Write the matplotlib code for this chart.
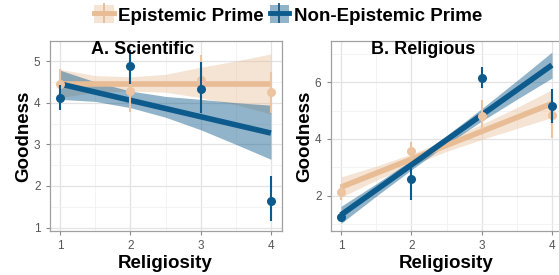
import matplotlib
matplotlib.use('Agg')
import matplotlib.pyplot as plt
import numpy as np
from matplotlib.patches import Patch
from matplotlib.lines import Line2D

plt.rcParams['font.family'] = ['Liberation Sans', 'DejaVu Sans']

# religiosity levels (x)
rel = [1, 2, 3, 4]
band_x = [1, 1.5, 2, 2.5, 3, 3.5, 4]

# A. Scientific - group means and error bars
sci_ep_mean = [4.45, 4.28, 4.55, 4.25]
sci_ep_lo = [4.10, 3.78, 3.95, 3.75]
sci_ep_hi = [4.80, 4.75, 5.14, 4.74]
sci_ne_mean = [4.12, 4.87, 4.33, 1.63]
sci_ne_lo = [3.83, 4.46, 3.74, 1.15]
sci_ne_hi = [4.42, 5.27, 4.98, 2.24]
# fitted lines (at x=1 and x=4) and confidence bands
sci_ep_fit = [4.45, 4.45]
sci_ep_band_lo = [4.12, 4.25, 4.28, 4.25, 4.12, 3.95, 3.73]
sci_ep_band_hi = [4.80, 4.65, 4.62, 4.68, 4.85, 5.00, 5.17]
sci_ne_fit = [4.45, 3.27]
sci_ne_band_lo = [4.08, 4.03, 3.88, 3.65, 3.35, 3.00, 2.64]
sci_ne_band_hi = [4.78, 4.50, 4.28, 4.15, 4.08, 4.00, 3.94]

# B. Religious
rel_ep_mean = [2.12, 3.57, 4.80, 4.83]
rel_ep_lo = [1.85, 3.30, 4.30, 4.03]
rel_ep_hi = [2.40, 3.90, 5.38, 5.60]
rel_ne_mean = [1.24, 2.60, 6.17, 5.16]
rel_ne_lo = [1.10, 1.85, 5.79, 4.55]
rel_ne_hi = [1.40, 3.08, 6.55, 5.75]
rel_ep_fit = [2.30, 5.25]
rel_ep_band_lo = [1.94, 2.54, 3.07, 3.56, 3.98, 4.37, 4.76]
rel_ep_band_hi = [2.66, 3.04, 3.47, 3.96, 4.52, 5.11, 5.74]
rel_ne_fit = [1.32, 6.61]
rel_ne_band_lo = [1.02, 1.98, 2.91, 3.80, 4.63, 5.40, 6.15]
rel_ne_band_hi = [1.62, 2.42, 3.25, 4.12, 5.07, 6.06, 7.07]

ep_col = '#E8BC95'
ep_pt = '#EDC4A1'
ne_col = '#0D5A8C'
grey_txt = '#555555'


def draw_panel(ax, title, ep, ne, ylim, yticks, yminor):
       # bands
       ax.fill_between(band_x, ep['blo'], ep['bhi'], color=ep_col, alpha=0.4, lw=0, zorder=2)
       ax.fill_between(band_x, ne['blo'], ne['bhi'], color=ne_col, alpha=0.45, lw=0, zorder=3)
       # fitted lines
       ax.plot([1, 4], ep['fit'], color=ep_col, lw=4, solid_capstyle='butt', zorder=4)
       ax.plot([1, 4], ne['fit'], color=ne_col, lw=4, solid_capstyle='butt', zorder=5)
       # means with error bars
       for d, c, z in [(ep, ep_pt, 6), (ne, ne_col, 7)]:
              ax.vlines(rel, d['lo'], d['hi'], color=c, lw=1.5, zorder=z)
              ax.plot(rel, d['mean'], 'o', color=c, ms=6.5, mec='none', zorder=z)

       ax.set(xlim=(0.85, 4.15), xticks=rel, ylim=ylim, yticks=yticks)
       ax.set_xticks([1.5, 2.5, 3.5], minor=True)
       ax.set_yticks(yminor, minor=True)
       ax.grid(which='major', color='#E3E3E3', lw=0.9, zorder=0)
       ax.grid(which='minor', color='#F1F1F1', lw=0.6, zorder=0)
       ax.set_axisbelow(True)
       for s in ax.spines.values():
              s.set_color('#A0A0A0')
              s.set_linewidth(0.9)
       ax.tick_params(which='major', colors='#8A8A8A', labelcolor=grey_txt, labelsize=8.5, length=3, width=0.8, pad=3.5)
       ax.tick_params(which='minor', length=0)
       ax.set_xlabel('Religiosity', fontsize=13.5, fontweight='bold', labelpad=2.5)
       ax.set_ylabel('Goodness', fontsize=13.5, fontweight='bold', labelpad=1.5)
       ax.text(0.40, 1.0, title, transform=ax.transAxes, ha='center', va='top',
               fontsize=13, fontweight='bold', zorder=10)


fig = plt.figure(figsize=(5.59, 2.75), dpi=100)
ax1 = fig.add_axes([49.5 / 559, 44 / 275, 232 / 559, 190 / 275])
ax2 = fig.add_axes([330.5 / 559, 44 / 275, 232 / 559, 190 / 275])

draw_panel(ax1, 'A. Scientific',
           dict(mean=sci_ep_mean, lo=sci_ep_lo, hi=sci_ep_hi, fit=sci_ep_fit, blo=sci_ep_band_lo, bhi=sci_ep_band_hi),
           dict(mean=sci_ne_mean, lo=sci_ne_lo, hi=sci_ne_hi, fit=sci_ne_fit, blo=sci_ne_band_lo, bhi=sci_ne_band_hi),
           (0.92, 5.48), [1, 2, 3, 4, 5], [1.5, 2.5, 3.5, 4.5])
draw_panel(ax2, 'B. Religious',
           dict(mean=rel_ep_mean, lo=rel_ep_lo, hi=rel_ep_hi, fit=rel_ep_fit, blo=rel_ep_band_lo, bhi=rel_ep_band_hi),
           dict(mean=rel_ne_mean, lo=rel_ne_lo, hi=rel_ne_hi, fit=rel_ne_fit, blo=rel_ne_band_lo, bhi=rel_ne_band_hi),
           (0.75, 7.46), [2, 4, 6], [1, 3, 5, 7])

handles = [
       (Patch(facecolor=ep_col, alpha=0.4, lw=0),
        Line2D([], [], color=ep_col, lw=3.5, marker='|', ms=14, mew=1.3)),
       (Patch(facecolor=ne_col, alpha=0.45, lw=0),
        Line2D([], [], color=ne_col, lw=3.5, marker='|', ms=14, mew=1.3)),
]
fig.legend(handles, ['Epistemic Prime', 'Non-Epistemic Prime'], loc='center',
           bbox_to_anchor=(288 / 559, 1 - 15 / 275), ncol=2, frameon=False,
           prop=dict(size=13.5, weight='bold'), handlelength=1.05, handleheight=1.05,
           handletextpad=0.25, columnspacing=0.3, borderpad=0)

fig.savefig('out.png', dpi=100)
